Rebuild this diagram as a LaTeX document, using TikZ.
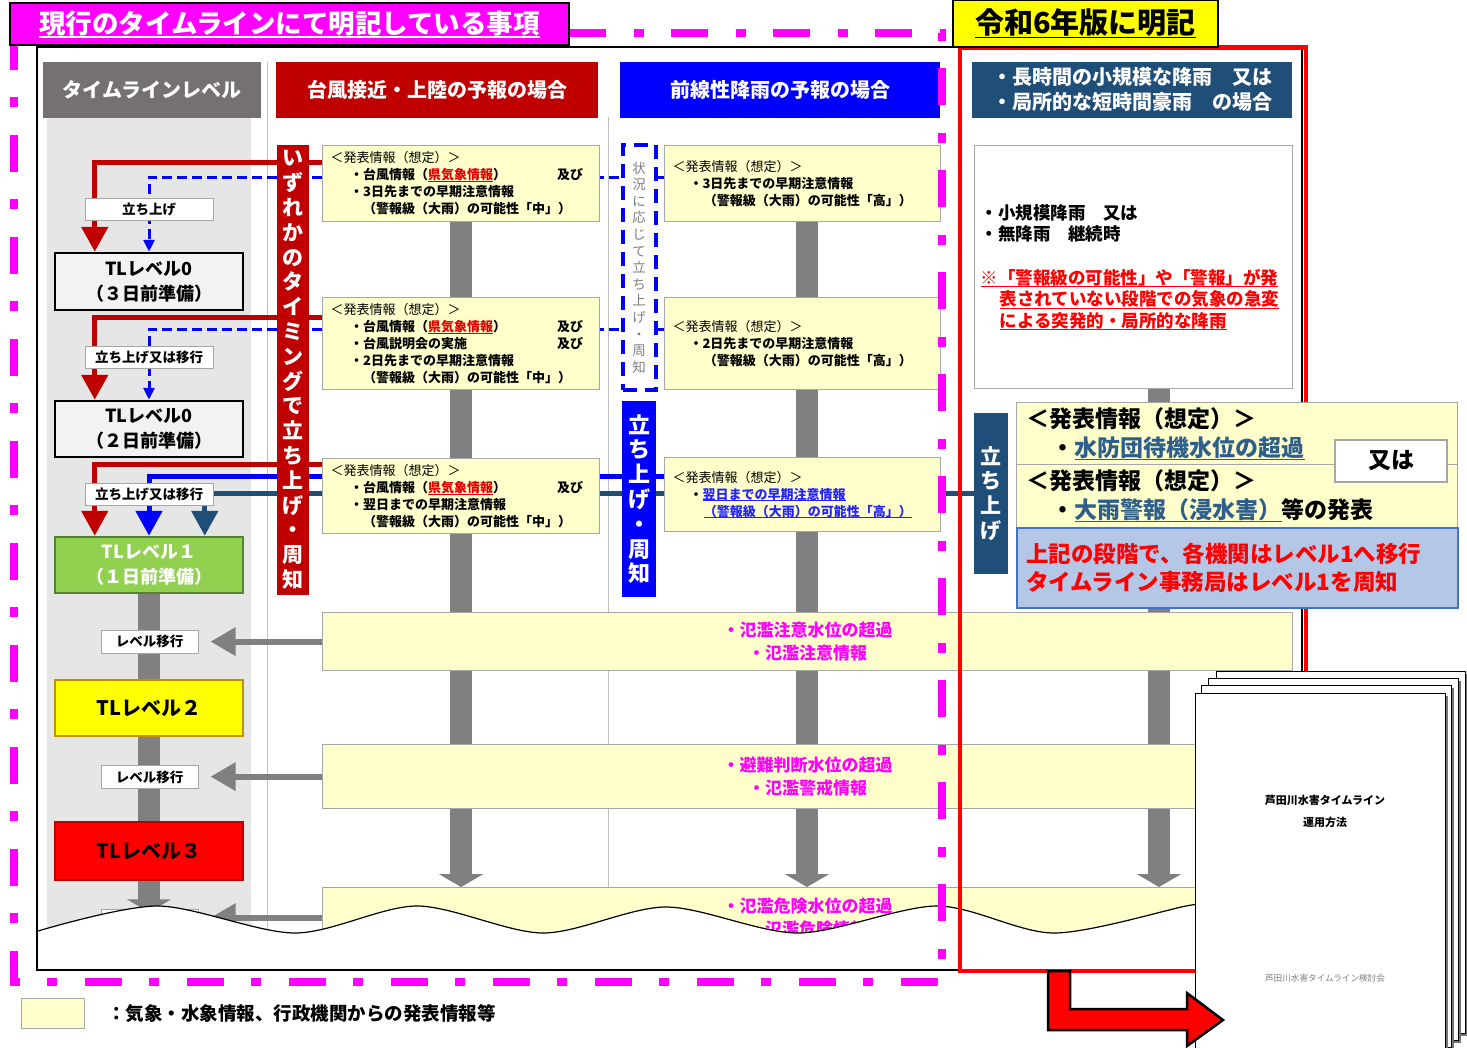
\documentclass[tikz,border=0pt]{standalone}
\usepackage{fontspec}
\setmainfont{Noto Sans CJK JP}
\usetikzlibrary{arrows.meta,positioning,calc}

\definecolor{levelgray}{HTML}{767171}
\definecolor{columngray}{HTML}{E7E6E6}
\definecolor{typhoonred}{HTML}{C00000}
\definecolor{localnavy}{HTML}{1F4E79}
\definecolor{infoyellow}{HTML}{FFFFCC}
\definecolor{edgegray}{HTML}{A6A6A6}
\definecolor{flowgray}{HTML}{808080}
\definecolor{level1green}{HTML}{92D050}
\definecolor{level1edge}{HTML}{548235}
\definecolor{level2edge}{HTML}{BF9000}
\definecolor{noticeblue}{HTML}{B4C7E7}
\definecolor{noticeedge}{HTML}{4472C4}
\definecolor{linkred}{HTML}{E00000}
\definecolor{linkblue}{HTML}{2323FF}
\definecolor{linknavy}{HTML}{2E5E8C}
\definecolor{softgray}{HTML}{7F7F7F}
\definecolor{pinkline}{RGB}{255,0,255}
\definecolor{signyellow}{RGB}{255,255,0}

\pgfdeclarelayer{bg}
\pgfsetlayers{bg,main}

% underline drawn in the colour of the text
\newcommand\undl[1]{\leavevmode\setbox0\hbox{#1}\rlap{\rule[-0.17em]{\wd0}{0.06em}}\box0}

\begin{document}
\begin{tikzpicture}[x=1pt, y=-1pt,
    colhead/.style={text=white, font=\fontsize{20}{25}\selectfont\bfseries, minimum height=56pt, inner sep=0pt},
    tlbox/.style={draw, line width=2.5pt, minimum width=188pt, align=center, font=\fontsize{18}{25}\selectfont\bfseries},
    lblbox/.style={draw=edgegray, fill=white, line width=1pt, minimum height=22pt, inner sep=0pt, font=\fontsize{13.5}{16}\selectfont\bfseries},
    infobox/.style={draw=edgegray, fill=infoyellow, line width=1.2pt, anchor=north west, align=left, inner xsep=8pt, inner ysep=0pt, font=\fontsize{13}{17}\selectfont},
    bandbox/.style={draw=edgegray, fill=infoyellow, line width=1.2pt, anchor=north west, align=center, inner sep=0pt, minimum width=970pt, text=pinkline, font=\fontsize{17}{23}\selectfont\bfseries},
    vbar/.style={align=center, inner sep=0pt, minimum width=33pt, font=\fontsize{21}{24.8}\selectfont\bfseries},
    flowline/.style={flowgray, line width=22pt, -{Triangle[width=44pt,length=13pt]}},
    backarrow/.style={flowgray, line width=6pt, -{Triangle[width=27pt,length=25pt]}, shorten >=12pt},
    uplink/.style={line width=5pt, -{Triangle[width=26pt,length=25pt]}},
    updash/.style={blue, line width=3pt, dash pattern=on 10pt off 5pt, -{Triangle[width=11pt,length=12pt]}}]

    \useasboundingbox (0, 0) rectangle (1467, 1047);

    % Draw column headers
    \node (hLevel) at (152, 89.5) [colhead, fill=levelgray, minimum width=218pt] {タイムラインレベル};
    \node (hTyphoon) at (437, 89.5) [colhead, fill=typhoonred, minimum width=322pt] {台風接近・上陸の予報の場合};
    \node (hFront) at (780, 89.5) [colhead, fill=blue, minimum width=320pt] {前線性降雨の予報の場合};
    \node (hLocal) at (1132, 89.5) [colhead, fill=localnavy, minimum width=320pt, align=left] {・長時間の小規模な降雨　又は\\・局所的な短時間豪雨　の場合};

    % Draw timeline levels
    \node (lvl0a) at (149, 281.5) [tlbox, fill=gray!10, minimum height=57pt] {TLレベル0\\（３日前準備）};
    \node (lvl0b) at (149, 429) [tlbox, fill=gray!10, minimum height=56pt] {TLレベル0\\（２日前準備）};
    \node (lvl1) at (149, 565) [tlbox, fill=level1green, draw=level1edge, text=white, minimum height=56pt] {TLレベル１\\（１日前準備）};
    \node (lvl2) at (149, 708) [tlbox, fill=signyellow, draw=level2edge, minimum height=56pt, font=\fontsize{20}{25}\selectfont\bfseries] {TLレベル２};
    \node (lvl3) at (149, 851) [tlbox, fill=red, draw=typhoonred, minimum height=58pt, font=\fontsize{20}{25}\selectfont\bfseries] {TLレベル３};

    % Draw labels on the level arrows
    \node (up1) at (149, 209) [lblbox, minimum width=128pt] {立ち上げ};
    \node (up2) at (149, 357) [lblbox, minimum width=128pt] {立ち上げ又は移行};
    \node (up3) at (149, 494) [lblbox, minimum width=128pt] {立ち上げ又は移行};
    \node (move1) at (149.5, 641.5) [lblbox, minimum width=97pt, minimum height=23pt] {レベル移行};
    \node (move2) at (149.5, 777) [lblbox, minimum width=97pt, minimum height=23pt] {レベル移行};
    \node (move3) at (149.5, 921) [lblbox, minimum width=97pt, minimum height=23pt] {レベル移行};

    % Draw vertical start-up bars
    \node (anyTime) at (293, 370) [vbar, fill=typhoonred, text=white, minimum width=32pt, minimum height=450pt] {い\\ず\\れ\\か\\の\\タ\\イ\\ミ\\ン\\グ\\で\\立\\ち\\上\\げ\\・\\周\\知};
    \node (asNeeded) at (639, 267.5) [vbar, fill=white, draw=blue, line width=4pt, dash pattern=on 14pt off 8pt, text=softgray, minimum height=245pt, font=\fontsize{13.5}{16.6}\selectfont] {状\\況\\に\\応\\じ\\て\\立\\ち\\上\\げ\\・\\周\\知};
    \node (frontUp) at (639, 499) [vbar, fill=blue, text=white, minimum width=34pt, minimum height=196pt, font=\fontsize{22}{24.8}\selectfont\bfseries] {立\\ち\\上\\げ\\・\\周\\知};
    \node (localUp) at (991, 493.5) [vbar, fill=localnavy, text=white, minimum width=34pt, minimum height=161pt] {立\\ち\\上\\げ};

    % Draw typhoon announcements
    \node (tyA) at (322, 145) [infobox, text width=261pt, minimum height=76pt] {＜発表情報（想定）＞\\\bfseries\hspace*{1.5em}\makebox[207pt][l]{・台風情報（\textcolor{linkred}{\undl{県気象情報}}）}及び\\\hspace*{1.5em}・3日先までの早期注意情報\\\hspace*{2.5em}（警報級（大雨）の可能性「中」）};
    \node (tyB) at (322, 297) [infobox, text width=261pt, minimum height=92pt] {＜発表情報（想定）＞\\\bfseries\hspace*{1.5em}\makebox[207pt][l]{・台風情報（\textcolor{linkred}{\undl{県気象情報}}）}及び\\\hspace*{1.5em}\makebox[207pt][l]{・台風説明会の実施}及び\\\hspace*{1.5em}・2日先までの早期注意情報\\\hspace*{2.5em}（警報級（大雨）の可能性「中」）};
    \node (tyC) at (322, 458) [infobox, text width=261pt, minimum height=75pt] {＜発表情報（想定）＞\\\bfseries\hspace*{1.5em}\makebox[207pt][l]{・台風情報（\textcolor{linkred}{\undl{県気象情報}}）}及び\\\hspace*{1.5em}・翌日までの早期注意情報\\\hspace*{2.5em}（警報級（大雨）の可能性「中」）};

    % Draw frontal rain announcements
    \node (frD) at (664, 145) [infobox, text width=260pt, minimum height=76pt] {＜発表情報（想定）＞\\\bfseries\hspace*{1.3em}・3日先までの早期注意情報\\\hspace*{2.4em}（警報級（大雨）の可能性「高」）};
    \node (frE) at (664, 297) [infobox, text width=260pt, minimum height=92pt] {＜発表情報（想定）＞\\\bfseries\hspace*{1.3em}・2日先までの早期注意情報\\\hspace*{2.4em}（警報級（大雨）の可能性「高」）};
    \node (frF) at (664, 457) [infobox, text width=260pt, minimum height=74pt] {＜発表情報（想定）＞\\\bfseries\hspace*{1.3em}・\textcolor{linkblue}{\undl{翌日までの早期注意情報}}\\\hspace*{2.4em}\textcolor{linkblue}{\undl{（警報級（大雨）の可能性「高」）}}};

    % Draw local heavy rain condition
    \node (calm) at (974, 145) [infobox, fill=white, text width=306pt, inner xsep=6pt, minimum height=243pt, font=\fontsize{17.5}{21.5}\selectfont\bfseries] {・小規模降雨　又は\\・無降雨　継続時\\[22pt]\color{red}\undl{※「警報級の可能性」や「警報」が発}\\\hspace*{1.1em}\undl{表されていない段階での気象の急変}\\\hspace*{1.1em}\undl{による突発的・局所的な降雨}};

    % Draw water level bands
    \node (band1) at (322, 612) [bandbox, minimum height=58pt] {・氾濫注意水位の超過\\・氾濫注意情報};
    \node (band2) at (322, 744) [bandbox, minimum height=64pt] {・避難判断水位の超過\\・氾濫警戒情報};
    \node (band3) at (322, 887) [bandbox, minimum height=60pt] {・氾濫危険水位の超過\\・氾濫危険情報};

    \coordinate (frontFlow) at (807, 221);
    \coordinate (localFlow) at (1159, 388);

    \begin{pgfonlayer}{bg}
        \fill[white] (0, 0) rectangle (1467, 1047);
        \fill[columngray] (47, 118) rectangle (251, 935);
        \draw[gray!50, line width=0.8pt] (267, 62) -- (267, 935);
        \draw[gray!50, line width=0.8pt] (608, 117) -- (608, 935);

        % Draw gray flows
        \draw[flowline] (lvl1.south) -- ++(0, 318);
        \draw[flowline] (tyA.south) -- (tyA.south |- band3.north);
        \draw[flowline] (frontFlow) -- (frontFlow |- band3.north);
        \draw[flowline] (localFlow) -- (localFlow |- band3.north);

        % Draw start-up arrows
        \draw[uplink, typhoonred] ($(tyA.north west)+(0, 17)$) -| ($(lvl0a.north west)+(41, 0)$);
        \draw[updash] ($(tyA.north west)+(0, 32)$) -| (lvl0a.north);
        \draw[blue, line width=3pt, dash pattern=on 10pt off 5pt] ($(frD.north west)+(0, 32)$) -- ($(tyA.north east)+(0, 32)$);
        \draw[uplink, typhoonred] ($(tyB.north west)+(0, 20)$) -| ($(lvl0b.north west)+(41, 0)$);
        \draw[updash] ($(tyB.north west)+(0, 32)$) -| (lvl0b.north);
        \draw[blue, line width=3pt, dash pattern=on 10pt off 5pt] ($(frE.north west)+(0, 32)$) -- ($(tyB.north east)+(0, 32)$);
        \draw[uplink, typhoonred] ($(tyC.north west)+(0, 6)$) -| ($(lvl1.north west)+(41, 0)$);
        \draw[uplink, blue] ($(frF.north west)+(0, 19)$) -| (lvl1.north);
        \draw[uplink, localnavy] (localUp.west) -| ($(lvl1.north west)+(151, 0)$);
    \end{pgfonlayer}

    % Draw level shift arrows
    \draw[backarrow] (band1.west) -- (band1.west -| move1.east);
    \draw[backarrow] (band2.west) -- (band2.west -| move2.east);
    \draw[backarrow] (band3.west) -- (band3.west -| move3.east);

    % Draw wavy cut
    \fill[white] plot[smooth] coordinates {(38, 931) (158, 906) (295, 933) (417, 906) (543, 933) (666, 907) (798, 933) (937, 906) (1054, 933) (1186, 906) (1196, 906)} -- (1196, 968) -- (38, 968) -- cycle;
    \draw[line width=1.2pt] plot[smooth] coordinates {(38, 931) (158, 906) (295, 933) (417, 906) (543, 933) (666, 907) (798, 933) (937, 906) (1054, 933) (1186, 906) (1196, 906)};

    % Draw frames
    \draw[line width=2pt] (37, 47) rectangle (1302, 970);
    \draw[red, line width=4.5pt] (960, 47.5) rectangle (1306, 971);
    \draw[pinkline, line width=8pt, dash pattern=on 37pt off 27pt on 10pt off 28pt] (14, 33) rectangle (942, 982);

    % Draw start-up announcements of the local column
    \node (standby) at (1016, 402) [infobox, text width=421pt, inner xsep=10pt, minimum height=62pt, font=\fontsize{23}{29}\selectfont\bfseries] {＜発表情報（想定）＞\\\hspace*{1.1em}・\textcolor{linknavy}{\undl{水防団待機水位の超過}}};
    \node (heavyRain) at (1016, 464) [infobox, text width=421pt, inner xsep=10pt, minimum height=63pt, font=\fontsize{23}{29}\selectfont\bfseries] {＜発表情報（想定）＞\\\hspace*{1.1em}・\textcolor{linknavy}{\undl{大雨警報（浸水害）}}等の発表};
    \node (orBox) at (1391, 461) [draw=edgegray, fill=white, line width=1.2pt, minimum width=112pt, minimum height=42pt, font=\fontsize{23}{28}\selectfont\bfseries] {又は};
    \node (toLevel1) at (1016, 527) [draw=noticeedge, fill=noticeblue, line width=2pt, anchor=north west, align=left, text width=423pt, inner xsep=9pt, inner ysep=0pt, minimum height=80pt, text=red, font=\fontsize{22.5}{28}\selectfont\bfseries] {上記の段階で、各機関はレベル1へ移行\\タイムライン事務局はレベル1を周知};

    % Draw titles
    \node (hdrNow) at (289.5, 24) [draw, line width=1.5pt, fill=pinkline, text=white, minimum width=559pt, minimum height=42pt, font=\fontsize{26.5}{30}\selectfont\bfseries] {\undl{現行のタイムラインにて明記している事項}};
    \node (hdrNew) at (1085.5, 23.5) [draw, line width=1.5pt, fill=signyellow, minimum width=265pt, minimum height=47pt, font=\fontsize{29}{32}\selectfont\bfseries] {\undl{令和6年版に明記}};

    % Draw document stack
    \fill[black!55] (1219, 674) rectangle (1468, 1036);
    \draw[fill=white, line width=1pt] (1216, 671) rectangle (1465, 1033);
    \fill[black!55] (1211, 681) rectangle (1461, 1043);
    \draw[fill=white, line width=1pt] (1208, 678) rectangle (1458, 1040);
    \fill[black!55] (1204, 688) rectangle (1454, 1050);
    \draw[fill=white, line width=1pt] (1201, 685) rectangle (1451, 1047);
    \fill[black!55] (1198, 696) rectangle (1448, 1058);
    \draw[fill=white, line width=1pt] (1195, 693) rectangle (1445, 1055);
    \node (docTitle) at (1325, 811) [align=center, font=\fontsize{11}{22}\selectfont\bfseries] {芦田川水害タイムライン\\運用方法};
    \node (docBy) at (1325, 978) [text=gray, font=\fontsize{8.6}{10}\selectfont] {芦田川水害タイムライン検討会};

    % Draw hand-over arrow
    \draw[fill=red, line width=2.5pt] (1048, 971) -- (1070, 971) -- (1070, 1009) -- (1187, 1009) -- (1187, 993) -- (1223, 1020) -- (1187, 1046) -- (1187, 1030) -- (1048, 1030) -- cycle;

    % Draw legend
    \node (legendBox) at (21, 998) [infobox, minimum width=63pt, minimum height=30pt, inner xsep=0pt] {};
    \node (legendText) [right=22pt of legendBox, inner sep=0pt, font=\fontsize{18.5}{22}\selectfont\bfseries] {：気象・水象情報、行政機関からの発表情報等};
\end{tikzpicture}
\end{document}
